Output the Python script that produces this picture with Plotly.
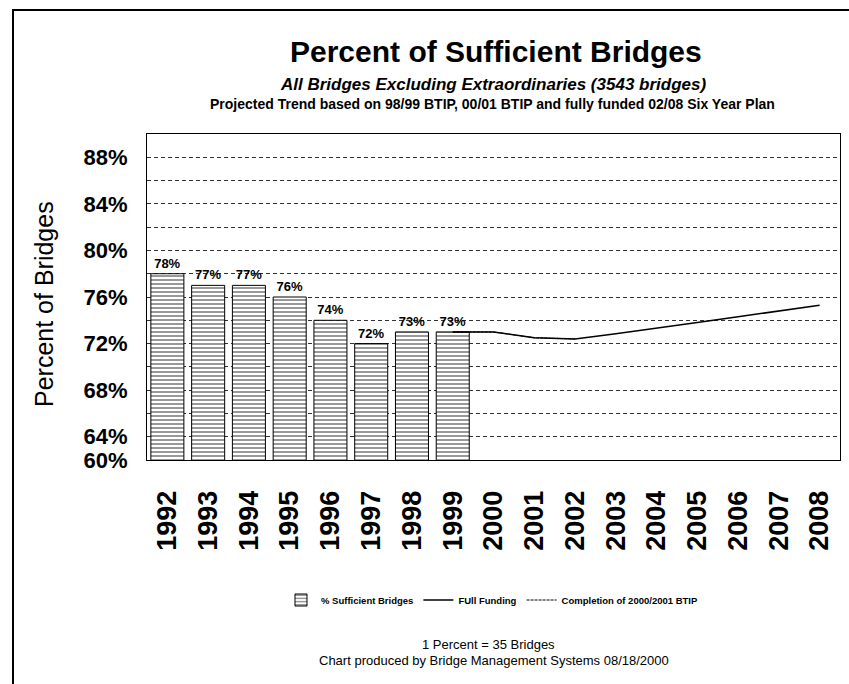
import plotly.graph_objects as go

years = [str(y) for y in range(1992, 2009)]
bar_years = ["1992", "1993", "1994", "1995", "1996", "1997", "1998", "1999"]
bar_values = [78, 77, 77, 76, 74, 72, 73, 73]
full_years = ["1999", "2000", "2001", "2002", "2003", "2004", "2005", "2006", "2007", "2008"]
full_values = [73, 73, 72.5, 72.4, 72.85, 73.3, 73.8, 74.3, 74.8, 75.3]
btip_years = ["1999", "2000", "2001", "2002"]
btip_values = [73, 73, 72.5, 72.4]
ytick_vals = [62, 64, 68, 72, 76, 80, 84, 88]
ytick_text = ["60%", "64%", "68%", "72%", "76%", "80%", "84%", "88%"]

FONT = "Liberation Sans, Arial, sans-serif"

fig = go.Figure()
fig.add_trace(go.Bar(
    x=bar_years, y=bar_values, name="% Sufficient Bridges",
    marker=dict(color="white",
                pattern=dict(shape="-", size=4, solidity=0.4, fgcolor="black", bgcolor="white"),
                line=dict(color="black", width=1)),
    text=[f"{v}%" for v in bar_values], textposition="outside", textangle=0,
    textfont=dict(family=FONT, size=13, color="black", weight="bold"),
    cliponaxis=False, constraintext="none",
))
fig.add_trace(go.Scatter(
    x=full_years, y=full_values, name="FUll Funding", mode="lines",
    line=dict(color="black", width=1.5),
))
fig.add_trace(go.Scatter(
    x=btip_years, y=btip_values, name="Completion of 2000/2001 BTIP", mode="lines",
    line=dict(color="black", width=1, dash="3px,1px"),
))

W, H = 849, 684
L, R, T, B = 147, 9, 134, 224
pw, ph = W - L - R, H - T - B

def px(x):
    return (x - L) / pw

def py(y):
    return (H - B - y) / ph

annotations = [
    dict(text="Percent of Sufficient Bridges", x=px(496), y=py(52),
         font=dict(family=FONT, size=30, color="black", weight="bold")),
    dict(text="All Bridges Excluding Extraordinaries (3543 bridges)", x=px(493), y=py(84),
         font=dict(family=FONT, size=17, color="black", weight="bold", style="italic")),
    dict(text="Projected Trend based on 98/99 BTIP, 00/01 BTIP and fully funded 02/08 Six Year Plan",
         x=px(492), y=py(104),
         font=dict(family=FONT, size=14, color="black", weight="bold")),
    dict(text="Percent of Bridges", x=px(44), y=py(304), textangle=-90,
         font=dict(family=FONT, size=25, color="black")),
    dict(text="1 Percent = 35 Bridges", x=px(488), y=py(644),
         font=dict(family=FONT, size=13, color="black")),
    dict(text="Chart produced by Bridge Management Systems 08/18/2000", x=px(494), y=py(660),
         font=dict(family=FONT, size=13, color="black")),
]
for a in annotations:
    a.update(xref="paper", yref="paper", showarrow=False, xanchor="center", yanchor="middle")

fig.update_layout(
    width=W, height=H,
    margin=dict(l=L, r=R, t=T, b=B, pad=0),
    paper_bgcolor="white", plot_bgcolor="white",
    font=dict(family=FONT, color="black"),
    bargap=0.19,
    showlegend=True,
    legend=dict(orientation="h", x=px(492), y=py(600), xanchor="center", yanchor="middle",
                font=dict(family=FONT, size=9.5, color="black", weight="bold"),
                bgcolor="rgba(0,0,0,0)"),
    annotations=annotations,
    shapes=[dict(type="rect", xref="paper", yref="paper",
                 x0=px(13), x1=px(870), y0=py(700), y1=py(10),
                 line=dict(color="black", width=2), layer="below")],
)
fig.update_xaxes(
    type="category", categoryorder="array", categoryarray=years,
    tickmode="array", tickvals=years, ticktext=years,
    range=[-0.5, 16.5], tickangle=-90, ticks="",
    tickfont=dict(family=FONT, size=27, color="black", weight="bold"),
    ticklabelstandoff=19,
    showline=True, linecolor="black", linewidth=1, mirror=True, showgrid=False,
)
fig.update_yaxes(
    range=[62, 90], tickmode="array", tickvals=ytick_vals, ticktext=ytick_text,
    ticks="", ticklabelstandoff=14,
    tickfont=dict(family=FONT, size=22, color="black", weight="bold"),
    showline=True, linecolor="black", linewidth=1, mirror=True,
    showgrid=True, gridcolor="#333333", gridwidth=1, griddash="4px,3px",
    minor=dict(tickmode="linear", tick0=0, dtick=2, showgrid=True,
               gridcolor="#333333", gridwidth=1, griddash="4px,3px"),
    zeroline=False,
)

fig.write_html("out.html")
